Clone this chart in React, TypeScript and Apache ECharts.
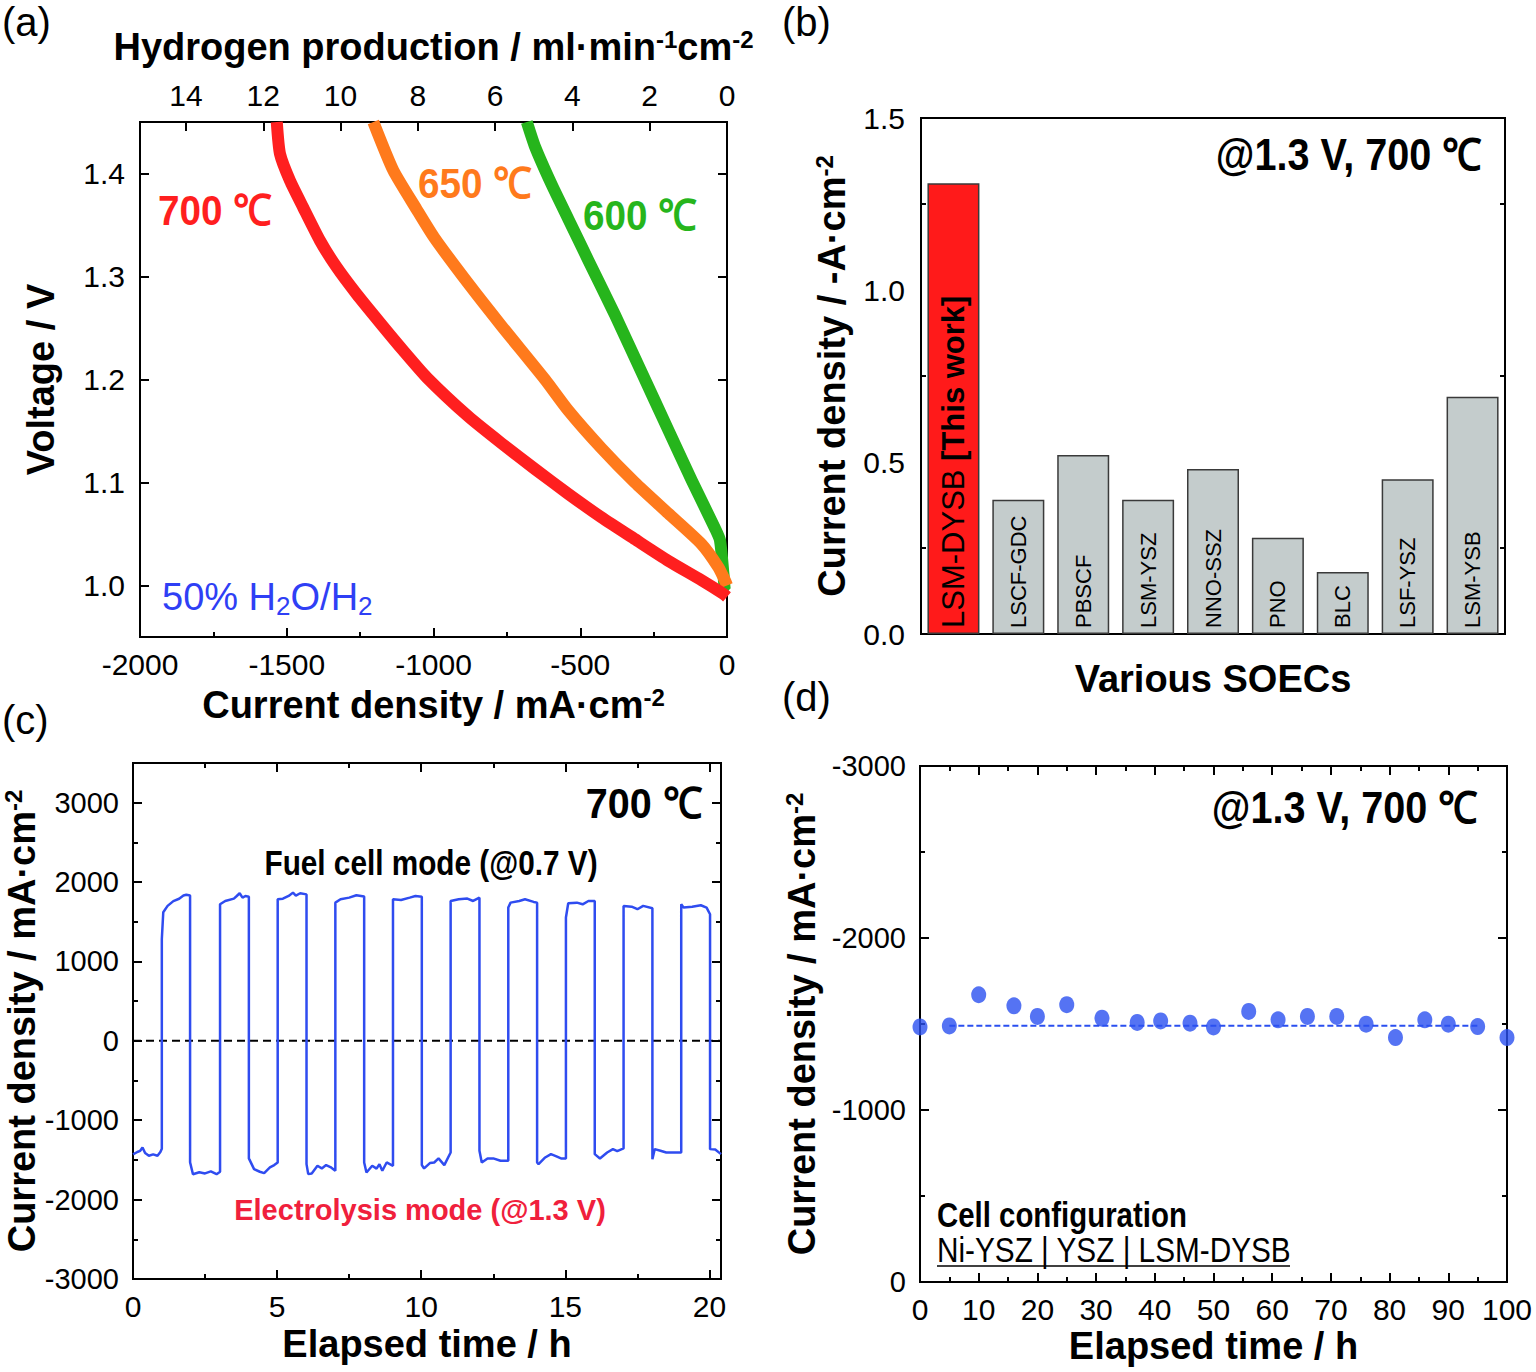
import React, { useEffect, useRef } from 'react';
import * as echarts from 'echarts';

// ---------- Panel (a): polarization curves ----------
const current700 = [-1534, -1523, -1489, -1444, -1387, -1330, -1262, -1182, -1103, -1023, -881, -768, -654, -541, -427, -314, -200, -86, -13, 0];
const voltage700 = [1.45, 1.419, 1.393, 1.367, 1.335, 1.309, 1.283, 1.255, 1.228, 1.202, 1.164, 1.138, 1.113, 1.089, 1.066, 1.045, 1.024, 1.005, 0.992, 0.989];
const current650 = [-1205, -1137, -1057, -998, -881, -768, -620, -541, -427, -314, -200, -86, -30, -7, 0];
const voltage650 = [1.45, 1.403, 1.365, 1.338, 1.293, 1.252, 1.2, 1.17, 1.133, 1.1, 1.07, 1.04, 1.018, 1.005, 1.0];
const current600 = [-682, -654, -597, -541, -473, -382, -291, -200, -120, -40, -24, -12, -7, 0];
const voltage600 = [1.45, 1.426, 1.389, 1.356, 1.316, 1.263, 1.207, 1.151, 1.102, 1.055, 1.044, 1.011, 0.995, 0.993];
const voltageTicks = [1.0, 1.1, 1.2, 1.3, 1.4];

// ---------- Panel (b): comparison bars ----------
const soecNames = ['LSM-DYSB [This work]', 'LSCF-GDC', 'PBSCF', 'LSM-YSZ', 'NNO-SSZ', 'PNO', 'BLC', 'LSF-YSZ', 'LSM-YSB'];
const soecCurrent = [1.31, 0.39, 0.52, 0.39, 0.48, 0.28, 0.18, 0.45, 0.69];

// ---------- Panel (c): reversible cycling ----------
const timeC = [
  0, 0.15, 0.25, 0.33, 0.42, 0.55, 0.7, 0.85, 0.95, 1.0,
  1.0, 1.05, 1.2, 1.4, 1.6, 1.75, 1.85, 1.98,
  1.98, 2.08, 2.3, 2.5, 2.7, 2.9, 3.02,
  3.02, 3.2, 3.5, 3.6, 3.7, 3.8, 3.9, 4.02,
  4.02, 4.2, 4.4, 4.55, 4.75, 4.9, 5.02,
  5.02, 5.2, 5.4, 5.55, 5.65, 5.8, 6.02,
  6.02, 6.08, 6.2, 6.4, 6.55, 6.7, 6.85, 7.02,
  7.02, 7.2, 7.5, 7.75, 8.02,
  8.02, 8.1, 8.3, 8.45, 8.55, 8.65, 8.8, 9.02,
  9.02, 9.3, 9.6, 9.8, 10.02,
  10.02, 10.1, 10.3, 10.45, 10.6, 10.8, 11.02,
  11.02, 11.3, 11.6, 11.8, 12.02,
  12.02, 12.1, 12.3, 12.5, 12.75, 13.02,
  13.02, 13.1, 13.4, 13.6, 13.9, 14.02,
  14.02, 14.07, 14.3, 14.5, 14.65, 14.85, 15.02,
  15.02, 15.1, 15.4, 15.6, 15.8, 16.02,
  16.02, 16.2, 16.45, 16.65, 16.8, 17.02,
  17.02, 17.3, 17.5, 17.7, 18.02,
  18.02, 18.1, 18.3, 18.5, 19.02,
  19.02, 19.1, 19.4, 19.7, 19.9, 20.02,
  20.02, 20.2, 20.4,
];
const currentC = [
  -1430, -1400, -1385, -1343, -1414, -1448, -1430, -1448, -1400, -1360,
  1280, 1620, 1700, 1760, 1790, 1830, 1840, 1830,
  -1530, -1680, -1655, -1670, -1645, -1680, -1650,
  1720, 1762, 1792, 1825, 1859, 1804, 1825, 1815,
  -1481, -1616, -1649, -1666, -1595, -1565, -1532,
  1783, 1790, 1825, 1867, 1830, 1859, 1845,
  -1553, -1679, -1670, -1574, -1607, -1565, -1590, -1637,
  1741, 1783, 1804, 1834, 1817,
  -1532, -1658, -1574, -1610, -1553, -1637, -1532, -1574,
  1783, 1775, 1804, 1825, 1815,
  -1565, -1607, -1540, -1532, -1481, -1565, -1406,
  1762, 1783, 1792, 1762, 1804,
  -1385, -1532, -1481, -1481, -1511, -1511,
  1679, 1741, 1762, 1783, 1750, 1741,
  -1532, -1553, -1469, -1427, -1448, -1481, -1481,
  1553, 1733, 1741, 1720, 1762, 1762,
  -1427, -1481, -1406, -1364, -1390, -1355,
  1700, 1690, 1658, 1700, 1670,
  -1490, -1364, -1385, -1406, -1406,
  1720, 1679, 1690, 1708, 1679, 1595,
  -1364, -1370, -1427,
];
const zeroLineX = [0, 20.4];

// ---------- Panel (d): durability ----------
const timeD = [0, 5, 10, 16, 20, 25, 31, 37, 41, 46, 50, 56, 61, 66, 71, 76, 81, 86, 90, 95, 100];
const currentD = [-1483, -1489, -1670, -1606, -1544, -1612, -1534, -1509, -1518, -1505, -1483, -1573, -1524, -1544, -1544, -1499, -1421, -1524, -1499, -1485, -1421];
const meanLineX = [5, 95];
const meanCurrentD = -1490;

const SANS = '"Liberation Sans", Arial, sans-serif';

const zip = (a: number[], b: number[]) => a.map((v, i) => [v, b[i]]);

const tickStyle = { inside: true, length: 9, lineStyle: { color: '#000', width: 2 } };
const minorStyle = { show: true, splitNumber: 2, length: 5, lineStyle: { color: '#000', width: 2 } };
const lineStyleAxis = { show: true, onZero: false, lineStyle: { color: '#000', width: 2 } };
const labelStyle = (margin: number, extra: any = {}) => ({
  fontSize: 30, fontFamily: SANS, color: '#000', margin, ...extra,
});
const titleRich = {
  t: { fontSize: 38, fontWeight: 'bold', fontFamily: SANS, color: '#000', lineHeight: 40 },
  sup: { fontSize: 24, fontWeight: 'bold', fontFamily: SANS, color: '#000', lineHeight: 24, verticalAlign: 'top' },
};
const nameStyle = { rich: titleRich, fontSize: 38, fontWeight: 'bold', fontFamily: SANS, color: '#000' };

// annotation text (slightly condensed, like a narrow font)
const note = (x: number, y: number, text: string, o: any) => ({
  type: 'text', x, y, scaleX: o.scaleX ?? 1,
  style: {
    text, fontSize: o.size, fontWeight: o.bold ? 'bold' : 'normal', fontFamily: SANS,
    fill: o.color ?? '#000', align: o.align ?? 'left', verticalAlign: 'middle',
  },
});

function buildOption(): any {
  const gridBase = { show: true, borderColor: '#000', borderWidth: 2, backgroundColor: 'transparent', outerBoundsMode: 'none', containLabel: false };
  const curve = (x: number[], y: number[], color: string, z: number) => ({
    type: 'line', xAxisIndex: 0, yAxisIndex: 0, data: zip(x, y), showSymbol: false, symbol: 'none',
    smooth: 0.2, lineStyle: { color, width: 12, join: 'round', cap: 'butt' }, itemStyle: { color }, clip: true, z,
  });
  return {
    animation: false,
    backgroundColor: '#fff',
    grid: [
      { ...gridBase, left: 140, top: 122, width: 587, height: 515 },
      { ...gridBase, left: 921, top: 118, width: 584, height: 516 },
      { ...gridBase, left: 133, top: 763, width: 588, height: 516 },
      { ...gridBase, left: 920, top: 766, width: 587, height: 516 },
    ],
    xAxis: [
      {
        gridIndex: 0, type: 'value', min: -2000, max: 0, interval: 500, position: 'bottom',
        axisLine: lineStyleAxis, axisTick: tickStyle, minorTick: minorStyle, splitLine: { show: false },
        axisLabel: labelStyle(12, { formatter: (v: number) => String(v) }),
        name: '{t|Current density / mA·cm}{sup|-2}', nameLocation: 'middle', nameGap: 48, nameTextStyle: nameStyle,
      },
      {
        gridIndex: 0, type: 'value', min: 0, max: 15.19, interval: 2, position: 'top', inverse: true,
        axisLine: lineStyleAxis, axisTick: tickStyle, splitLine: { show: false },
        axisLabel: labelStyle(12, { showMaxLabel: false, formatter: (v: number) => String(v) }),
        name: '{t|Hydrogen production / ml·min}{sup|-1}{t|cm}{sup|-2}', nameLocation: 'middle', nameGap: 55, nameTextStyle: nameStyle,
      },
      {
        gridIndex: 1, type: 'category', data: soecNames, position: 'bottom',
        axisLine: lineStyleAxis, axisTick: { show: false }, axisLabel: { show: false }, splitLine: { show: false },
        name: '{t|Various SOECs}', nameLocation: 'middle', nameGap: 25, nameTextStyle: nameStyle,
      },
      {
        gridIndex: 2, type: 'value', min: 0, max: 20.4, interval: 5, position: 'bottom',
        axisLine: lineStyleAxis, axisTick: tickStyle, minorTick: minorStyle, splitLine: { show: false },
        axisLabel: labelStyle(12, { showMaxLabel: false, formatter: (v: number) => String(v) }),
        name: '{t|Elapsed time / h}', nameLocation: 'middle', nameGap: 45, nameTextStyle: nameStyle,
      },
      {
        gridIndex: 2, type: 'value', min: 0, max: 20.4, interval: 5, position: 'top',
        axisLine: lineStyleAxis, axisTick: tickStyle, minorTick: minorStyle, splitLine: { show: false },
        axisLabel: { show: false },
      },
      {
        gridIndex: 3, type: 'value', min: 0, max: 100, interval: 10, position: 'bottom',
        axisLine: lineStyleAxis, axisTick: tickStyle, minorTick: minorStyle, splitLine: { show: false },
        axisLabel: labelStyle(12, { formatter: (v: number) => String(v) }),
        name: '{t|Elapsed time / h}', nameLocation: 'middle', nameGap: 44, nameTextStyle: nameStyle,
      },
      {
        gridIndex: 3, type: 'value', min: 0, max: 100, interval: 10, position: 'top',
        axisLine: lineStyleAxis, axisTick: tickStyle, minorTick: minorStyle, splitLine: { show: false },
        axisLabel: { show: false },
      },
    ],
    yAxis: [
      {
        gridIndex: 0, type: 'value', min: 0.95, max: 1.45, position: 'left',
        axisLine: lineStyleAxis, axisTick: { ...tickStyle, customValues: voltageTicks }, splitLine: { show: false },
        axisLabel: labelStyle(15, { customValues: voltageTicks, formatter: (v: number) => v.toFixed(1) }),
        name: '{t|Voltage / V}', nameLocation: 'middle', nameGap: 79, nameTextStyle: nameStyle,
      },
      {
        gridIndex: 0, type: 'value', min: 0.95, max: 1.45, position: 'right',
        axisLine: lineStyleAxis, axisTick: { ...tickStyle, customValues: voltageTicks }, splitLine: { show: false },
        axisLabel: { show: false },
      },
      {
        gridIndex: 1, type: 'value', min: 0, max: 1.5, interval: 0.5, position: 'left',
        axisLine: lineStyleAxis, axisTick: tickStyle, minorTick: minorStyle, splitLine: { show: false },
        axisLabel: labelStyle(16, { formatter: (v: number) => v.toFixed(1) }),
        name: '{t|Current density / -A·cm}{sup|-2}', nameLocation: 'middle', nameGap: 69, nameTextStyle: nameStyle,
      },
      {
        gridIndex: 1, type: 'value', min: 0, max: 1.5, interval: 0.5, position: 'right',
        axisLine: lineStyleAxis, axisTick: tickStyle, minorTick: minorStyle, splitLine: { show: false },
        axisLabel: { show: false },
      },
      {
        gridIndex: 2, type: 'value', min: -3000, max: 3500, interval: 1000, position: 'left',
        axisLine: lineStyleAxis, axisTick: tickStyle, minorTick: minorStyle, splitLine: { show: false },
        axisLabel: labelStyle(14, { fontSize: 29, showMaxLabel: false, formatter: (v: number) => String(v) }),
        name: '{t|Current density / mA·cm}{sup|-2}', nameLocation: 'middle', nameGap: 84, nameTextStyle: nameStyle,
      },
      {
        gridIndex: 2, type: 'value', min: -3000, max: 3500, interval: 1000, position: 'right',
        axisLine: lineStyleAxis, axisTick: tickStyle, minorTick: minorStyle, splitLine: { show: false },
        axisLabel: { show: false },
      },
      {
        gridIndex: 3, type: 'value', min: -3000, max: 0, interval: 1000, position: 'left', inverse: true,
        axisLine: lineStyleAxis, axisTick: tickStyle, minorTick: minorStyle, splitLine: { show: false },
        axisLabel: labelStyle(14, { fontSize: 29, formatter: (v: number) => String(v) }),
        name: '{t|Current density / mA·cm}{sup|-2}', nameLocation: 'middle', nameGap: 98, nameTextStyle: nameStyle,
      },
      {
        gridIndex: 3, type: 'value', min: -3000, max: 0, interval: 1000, position: 'right', inverse: true,
        axisLine: lineStyleAxis, axisTick: tickStyle, minorTick: minorStyle, splitLine: { show: false },
        axisLabel: { show: false },
      },
    ],
    series: [
      curve(current700, voltage700, '#ff1f1f', 3),
      curve(current650, voltage650, '#ff7a1c', 2),
      curve(current600, voltage600, '#26b51c', 1),
      {
        type: 'bar', xAxisIndex: 2, yAxisIndex: 2, barWidth: 52,
        data: soecCurrent.map((v, i) => ({
          value: v,
          itemStyle: { color: i === 0 ? '#ff1a1a' : '#c4cccc', borderColor: '#3a3a3a', borderWidth: 1.5 },
        })),
        label: {
          show: true, position: 'insideBottom', distance: 6, rotate: 90, align: 'left', verticalAlign: 'middle',
          fontSize: 22, fontFamily: SANS, color: '#000',
          formatter: (p: any) => (p.dataIndex === 0 ? '{n|LSM-DYSB }{b|[This work]}' : '{g|' + p.name + '}'),
          rich: {
            g: { fontSize: 22, fontFamily: SANS, color: '#000' },
            n: { fontSize: 31, fontFamily: SANS, color: '#000' },
            b: { fontSize: 31, fontFamily: SANS, fontWeight: 'bold', color: '#000' },
          },
        },
      },
      {
        type: 'line', xAxisIndex: 3, yAxisIndex: 4, data: zeroLineX.map((x) => [x, 0]), symbol: 'none',
        lineStyle: { color: '#000', width: 2, type: [8, 5] }, z: 1,
      },
      {
        type: 'line', xAxisIndex: 3, yAxisIndex: 4, data: zip(timeC, currentC), symbol: 'none',
        lineStyle: { color: '#2f4cf0', width: 2.5 }, z: 2,
      },
      {
        type: 'line', xAxisIndex: 5, yAxisIndex: 6, data: meanLineX.map((x) => [x, meanCurrentD]), symbol: 'none',
        lineStyle: { color: '#2a4ff0', width: 2, type: [6, 3] }, z: 1,
      },
      {
        type: 'scatter', xAxisIndex: 5, yAxisIndex: 6, data: zip(timeD, currentD), symbol: 'circle',
        symbolSize: [15, 17], itemStyle: { color: '#2a50f0' }, z: 3, clip: false,
      },
    ],
    graphic: [
      { type: 'text', x: 2, y: 2, style: { text: '(a)', fontSize: 40, fontFamily: SANS, fill: '#000' } },
      { type: 'text', x: 782, y: 2, style: { text: '(b)', fontSize: 40, fontFamily: SANS, fill: '#000' } },
      { type: 'text', x: 2, y: 700, style: { text: '(c)', fontSize: 40, fontFamily: SANS, fill: '#000' } },
      { type: 'text', x: 782, y: 677, style: { text: '(d)', fontSize: 40, fontFamily: SANS, fill: '#000' } },
      note(158, 210, '700 ℃', { size: 43, bold: true, color: '#ff1f1f', scaleX: 0.9 }),
      note(418, 183, '650 ℃', { size: 43, bold: true, color: '#ff7a1c', scaleX: 0.9 }),
      note(583, 215, '600 ℃', { size: 43, bold: true, color: '#26b51c', scaleX: 0.9 }),
      {
        type: 'text', x: 162, y: 597,
        style: {
          text: '{n|50% H}{s|2}{n|O/H}{s|2}', verticalAlign: 'middle',
          rich: {
            n: { fontSize: 38, fontFamily: SANS, fill: '#2f3ff5', lineHeight: 44 },
            s: { fontSize: 26, fontFamily: SANS, fill: '#2f3ff5', lineHeight: 26, verticalAlign: 'bottom' },
          },
        },
      },
      note(1482, 155, '@1.3 V, 700 ℃', { size: 44, bold: true, align: 'right', scaleX: 0.9 }),
      note(702, 803, '700 ℃', { size: 43, bold: true, align: 'right', scaleX: 0.92 }),
      note(431, 863, 'Fuel cell mode (@0.7 V)', { size: 35, bold: true, align: 'center', scaleX: 0.85 }),
      note(420, 1210, 'Electrolysis mode (@1.3 V)', { size: 29, bold: true, align: 'center', color: '#f0203c' }),
      note(1478, 808, '@1.3 V, 700 ℃', { size: 44, bold: true, align: 'right', scaleX: 0.9 }),
      note(937, 1215, 'Cell configuration', { size: 35, bold: true, scaleX: 0.84 }),
      note(937, 1250, 'Ni-YSZ | YSZ | LSM-DYSB', { size: 35, scaleX: 0.85 }),
      { type: 'line', shape: { x1: 937, y1: 1266, x2: 1290, y2: 1266 }, style: { stroke: '#000', lineWidth: 1.5 } },
    ],
  };
}

export default function App() {
  const ref = useRef<HTMLDivElement>(null);
  useEffect(() => {
    document.body.style.margin = '0';
    const chart = echarts.init(ref.current as HTMLDivElement, null, { renderer: 'svg' });
    chart.setOption(buildOption());
    return () => chart.dispose();
  }, []);
  return <div ref={ref} style={{ width: 1536, height: 1372, background: '#fff' }} />;
}
